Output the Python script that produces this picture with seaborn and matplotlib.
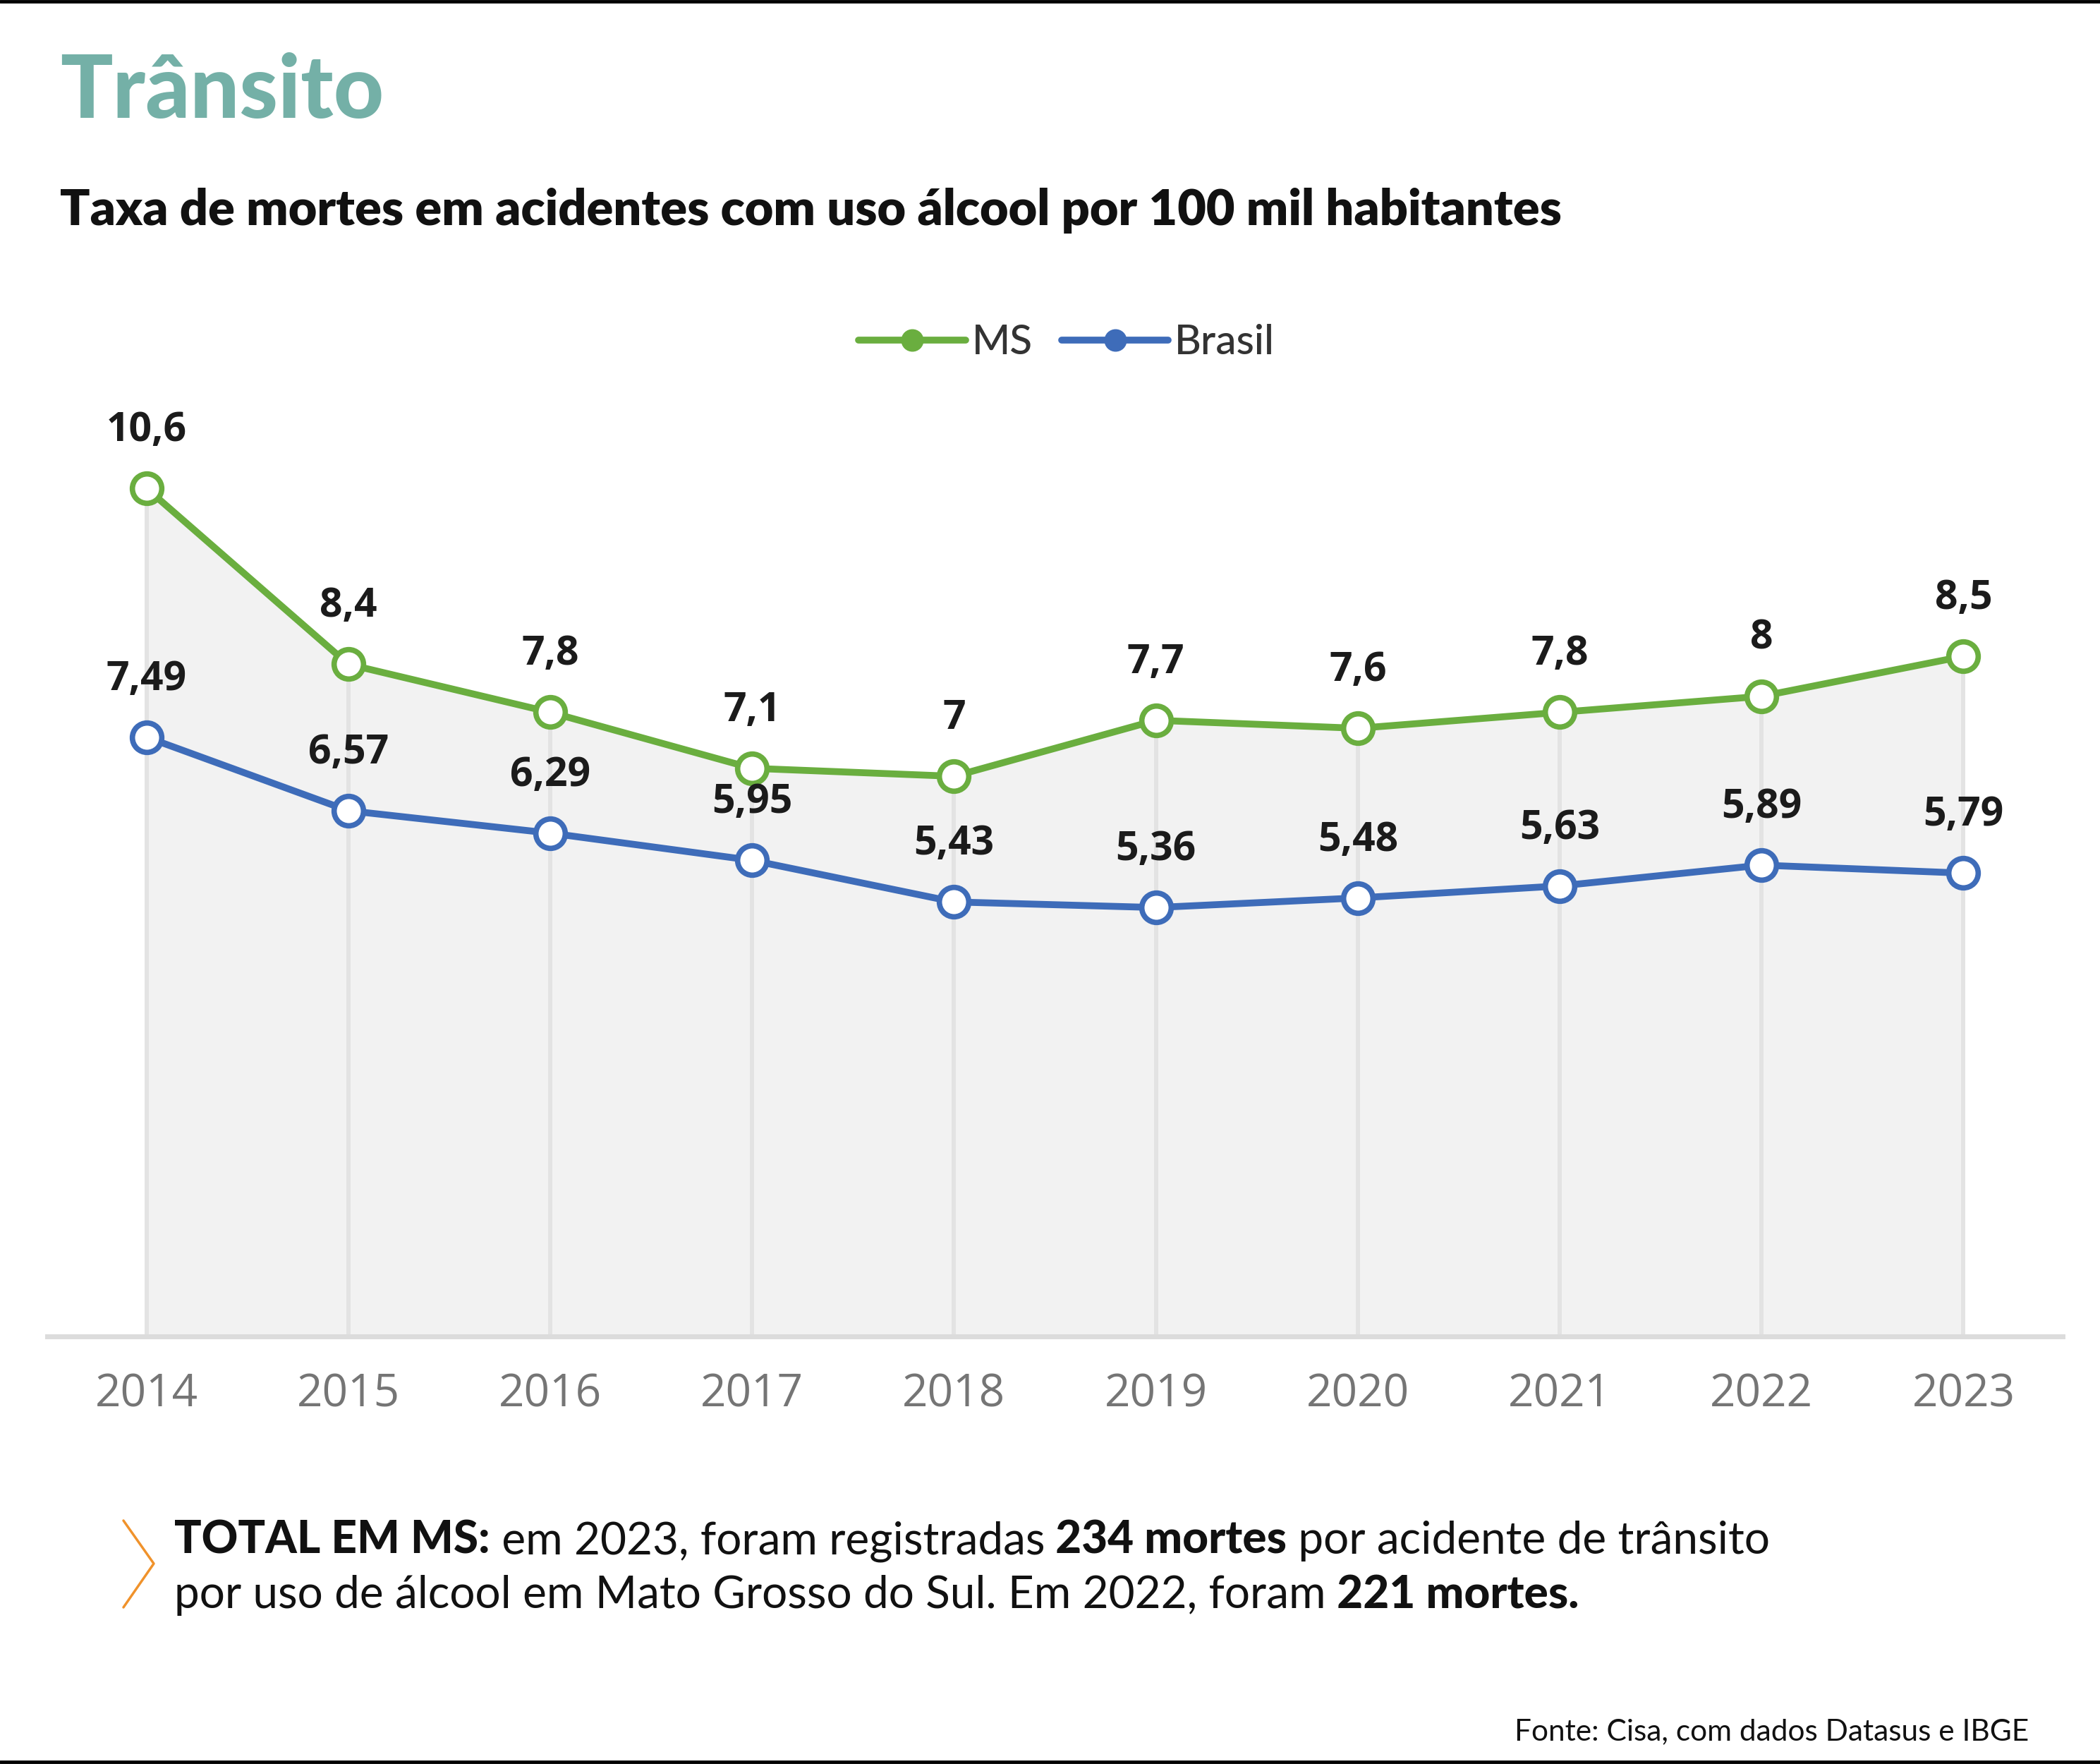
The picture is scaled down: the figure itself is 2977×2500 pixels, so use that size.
import numpy as np
import pandas as pd
import seaborn as sns
import matplotlib
matplotlib.use("Agg")
import matplotlib.pyplot as plt
from matplotlib import font_manager
from matplotlib.lines import Line2D

# dados
anos = [2014, 2015, 2016, 2017, 2018, 2019, 2020, 2021, 2022, 2023]
ms = [10.6, 8.4, 7.8, 7.1, 7.0, 7.7, 7.6, 7.8, 8.0, 8.5]
brasil = [7.49, 6.57, 6.29, 5.95, 5.43, 5.36, 5.48, 5.63, 5.89, 5.79]
series = ["MS", "Brasil"]

titulo = "Trânsito"
subtitulo = "Taxa de mortes em acidentes com uso álcool por 100 mil habitantes"
linha1 = [("TOTAL EM MS:", True), (" em 2023, foram registradas", False),
          (" 234 mortes", True), (" por acidente de trânsito", False)]
linha2 = [("por uso de álcool em Mato Grosso do Sul. Em 2022, foram", False),
          (" 221 mortes.", True)]
fonte_txt = "Fonte: Cisa, com dados Datasus e IBGE"

VERDE = "#6aae3f"
AZUL = "#3e6cb9"
TEAL = "#74b0a7"

sns.set_theme(style="white")
nomes = {f.name for f in font_manager.fontManager.ttflist}
def fonte(*opcoes):
    return next((o for o in opcoes if o in nomes), "DejaVu Sans")
LATO = fonte("Lato", "Open Sans", "DejaVu Sans")
OPEN = fonte("Open Sans", "Lato", "DejaVu Sans")
plt.rcParams["font.family"] = [LATO, "DejaVu Sans"]

W, H = 2977, 2500
fig = plt.figure(figsize=(W / 100, H / 100), dpi=100)

# eixo: y=0 na linha base (1894 px), 113.4 px por unidade
y_top = 11.5
ax_bottom = (H - 1894) / H
ax_h = y_top * 113.4 / H
ax = fig.add_axes([66.5 / W, ax_bottom, (2924 - 66.5) / W, ax_h])
ax.set_xlim(2013.507, 2023.491)
ax.set_ylim(0, y_top)

df = pd.DataFrame({"ano": anos * 2, "taxa": ms + brasil,
                   "serie": [series[0]] * len(anos) + [series[1]] * len(anos)})

ax.fill_between(anos, ms, 0, color="#f2f2f2", lw=0, zorder=0)
ax.vlines(anos, 0, ms, color="#e3e3e3", lw=4.3, zorder=1)

for nome, cor in zip(series, [VERDE, AZUL]):
    sns.lineplot(data=df[df["serie"] == nome], x="ano", y="taxa", color=cor,
                 lw=7, marker="o", markersize=30, markerfacecolor="white",
                 markeredgecolor=cor, markeredgewidth=5.5, ax=ax, zorder=3)

for vals in (ms, brasil):
    for a, v in zip(anos, vals):
        ax.annotate(f"{v:g}".replace(".", ","), (a, v), xytext=(0, 82),
                    textcoords="offset pixels", ha="center", va="center",
                    fontsize=41, fontweight="bold", family=[OPEN, "DejaVu Sans"],
                    color="#1b1b1b", zorder=5)

for s in ["left", "right", "top"]:
    ax.spines[s].set_visible(False)
ax.spines["bottom"].set_color("#dcdcdc")
ax.spines["bottom"].set_linewidth(5)
ax.set_yticks([])
ax.set_xticks(anos)
ax.set_xticklabels([str(a) for a in anos], fontsize=46, color="#757575",
                   family=[OPEN, "DejaVu Sans"])
ax.tick_params(axis="x", length=0, pad=36)
ax.set_xlabel("")
ax.set_ylabel("")

handles = [Line2D([], [], color=c, lw=7, marker="o", ms=22, mfc=c, mec=c)
           for c in [VERDE, AZUL]]
fig.legend(handles, series, loc="center", bbox_to_anchor=(0.508, 1 - 486 / H),
           ncol=2, frameon=False, handlelength=2.6, handletextpad=0.15,
           columnspacing=0.7, prop={"size": 42, "weight": "medium"},
           labelcolor="#333333")

fig.text(85 / W, 1 - 167 / H, titulo, fontsize=89, fontweight="black",
         color=TEAL, ha="left", va="baseline")
fig.text(85 / W, 1 - 319 / H, subtitulo, fontsize=50.5, fontweight="heavy",
         color="#111111", ha="left", va="baseline")

# paragrafo com trechos em negrito
renderer = fig.canvas.get_renderer()
for segs, base in [(linha1, 2202), (linha2, 2279)]:
    x = 247
    for txt, negrito in segs:
        t = fig.text(x / W, 1 - base / H, txt, fontsize=46,
                     fontweight="black" if negrito else "normal",
                     color="#111111", ha="left", va="baseline")
        x += t.get_window_extent(renderer).width

fig.add_artist(Line2D([175 / W, 218 / W, 175 / W],
                      [1 - 2155 / H, 1 - 2216 / H, 1 - 2278 / H],
                      color="#f0922b", lw=2.5))

fig.text(2876 / W, 1 - 2466 / H, fonte_txt, fontsize=30.5, color="#111111",
         ha="right", va="baseline")

fig.add_artist(Line2D([0, 1], [1 - 2 / H, 1 - 2 / H], color="black", lw=3.5))
fig.add_artist(Line2D([0, 1], [3 / H, 3 / H], color="black", lw=3.5))

fig.savefig("out.png", dpi=100)
